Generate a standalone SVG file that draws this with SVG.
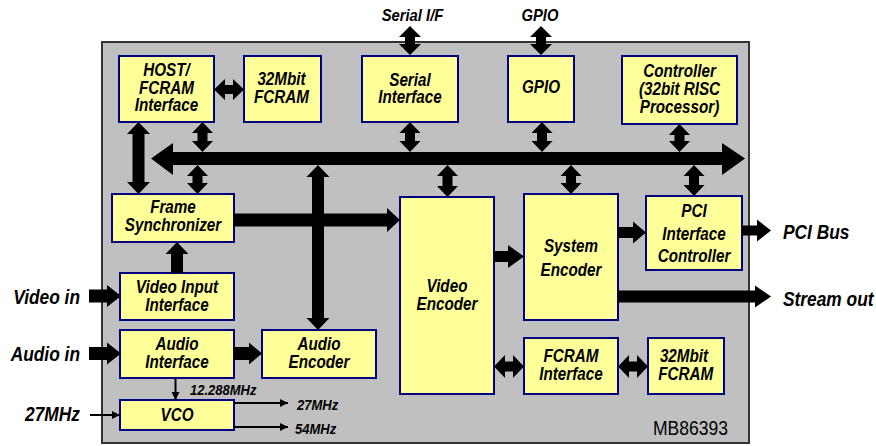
<svg xmlns="http://www.w3.org/2000/svg" width="876" height="446" viewBox="0 0 876 446">
<defs>
<style>
.chip{fill:#C0C0C0;stroke:#333333;stroke-width:2}
.box{fill:#FFFF99;stroke:#000080;stroke-width:2}
.arr{fill:#000000;stroke:none}
.thin{fill:none;stroke:#000000;stroke-width:2}
text{font-family:"Liberation Sans",Arial,sans-serif;font-weight:bold;font-style:italic;fill:#000000}
.lbl{font-size:17.5px;text-anchor:middle}
.top{font-size:17px;text-anchor:middle}
.extl{font-size:19.5px;text-anchor:end}
.extr{font-size:19.5px;text-anchor:start}
.sm{font-size:14px;text-anchor:start}
.part{font-size:20.5px;font-weight:normal;font-style:normal;text-anchor:end}
</style>
<marker id="ah" markerUnits="userSpaceOnUse" markerWidth="9" markerHeight="9" refX="8" refY="4" orient="auto">
<path d="M0,0 L8,4 L0,8 Z" fill="#000000"/>
</marker>
</defs>
<rect class="chip" x="102" y="42" width="647" height="401"/>
<g id="nodes">
<g id="host"><rect class="box" x="119" y="56" width="95" height="66"/><g transform="matrix(0.87 0 0 1 21.645 0)"><text class="lbl" x="166.5" y="76">HOST/</text><text class="lbl" x="166.5" y="94">FCRAM</text><text class="lbl" x="166.5" y="111">Interface</text></g></g>
<g id="fcram1"><rect class="box" x="244" y="56" width="77" height="66"/><g transform="matrix(0.87 0 0 1 36.6 0)"><text class="lbl" x="281.5" y="85.5">32Mbit</text><text class="lbl" x="281.5" y="103.5">FCRAM</text></g></g>
<g id="serial"><rect class="box" x="362" y="56" width="96" height="66"/><g transform="matrix(0.87 0 0 1 53.3 0)"><text class="lbl" x="410" y="86.5">Serial</text><text class="lbl" x="410" y="103.5">Interface</text></g></g>
<g id="gpio"><rect class="box" x="508" y="56" width="66" height="66"/><g transform="matrix(0.87 0 0 1 70.33 0)"><text class="lbl" x="541" y="93.5">GPIO</text></g></g>
<g id="controller"><rect class="box" x="622" y="56" width="115" height="68"/><g transform="matrix(0.87 0 0 1 88.335 0)"><text class="lbl" x="679.5" y="77.5">Controller</text><text class="lbl" x="679.5" y="95.5">(32bit RISC</text><text class="lbl" x="679.5" y="113.5">Processor)</text></g></g>
<g id="framesync"><rect class="box" x="112" y="194" width="122" height="48"/><g transform="matrix(0.87 0 0 1 22.49 0)"><text class="lbl" x="173" y="213.5">Frame</text><text class="lbl" x="173" y="231.5">Synchronizer</text></g></g>
<g id="videoinput"><rect class="box" x="120" y="273" width="114" height="47"/><g transform="matrix(0.87 0 0 1 23.01 0)"><text class="lbl" x="177" y="293.5">Video Input</text><text class="lbl" x="177" y="311">Interface</text></g></g>
<g id="audioif"><rect class="box" x="120" y="330" width="114" height="48"/><g transform="matrix(0.87 0 0 1 23.01 0)"><text class="lbl" x="177" y="350.5">Audio</text><text class="lbl" x="177" y="368.5">Interface</text></g></g>
<g id="audioenc"><rect class="box" x="262" y="330" width="114" height="48"/><g transform="matrix(0.87 0 0 1 41.47 0)"><text class="lbl" x="319" y="350.5">Audio</text><text class="lbl" x="319" y="368.5">Encoder</text></g></g>
<g id="vco"><rect class="box" x="120" y="400" width="114" height="30"/><g transform="matrix(0.87 0 0 1 23.01 0)"><text class="lbl" x="177" y="421">VCO</text></g></g>
<g id="videoenc"><rect class="box" x="400" y="197" width="94" height="197"/><g transform="matrix(0.87 0 0 1 58.11 0)"><text class="lbl" x="447" y="292.5">Video</text><text class="lbl" x="447" y="310.5">Encoder</text></g></g>
<g id="sysenc"><rect class="box" x="524" y="194" width="94" height="126"/><g transform="matrix(0.87 0 0 1 74.23 0)"><text class="lbl" x="571" y="252.5">System</text><text class="lbl" x="571" y="276.5">Encoder</text></g></g>
<g id="pci"><rect class="box" x="646" y="196" width="96" height="74"/><g transform="matrix(0.87 0 0 1 90.22 0)"><text class="lbl" x="694" y="217.5">PCI</text><text class="lbl" x="694" y="240">Interface</text><text class="lbl" x="694" y="262.5">Controller</text></g></g>
<g id="fcramif"><rect class="box" x="524" y="338" width="94" height="56"/><g transform="matrix(0.87 0 0 1 74.23 0)"><text class="lbl" x="571" y="362.5">FCRAM</text><text class="lbl" x="571" y="380">Interface</text></g></g>
<g id="fcram2"><rect class="box" x="648" y="338" width="76" height="56"/><g transform="matrix(0.87 0 0 1 88.92 0)"><text class="lbl" x="684" y="362.5">32Mbit</text><text class="lbl" x="686" y="380">FCRAM</text></g></g>
</g>
<g id="connectors">
<path class="arr" d="M151,158.5 L173,143 L173,152 L722,152 L722,143 L745,158.5 L722,175 L722,165 L173,165 L173,175 Z"/>
<path class="arr" d="M202.5,122 L213,133 L207.5,133 L207.5,141 L213,141 L202.5,152 L192,141 L197.5,141 L197.5,133 L192,133 Z"/>
<path class="arr" d="M197.5,165 L208,176 L202.5,176 L202.5,183 L208,183 L197.5,194 L187,183 L192.5,183 L192.5,176 L187,176 Z"/>
<path class="arr" d="M410,122 L420.5,133 L415,133 L415,141 L420.5,141 L410,152 L399.5,141 L405,141 L405,133 L399.5,133 Z"/>
<path class="arr" d="M542,122 L552.5,133 L547,133 L547,141 L552.5,141 L542,152 L531.5,141 L537,141 L537,133 L531.5,133 Z"/>
<path class="arr" d="M679.5,124 L690,135 L684.5,135 L684.5,141 L690,141 L679.5,152 L669,141 L674.5,141 L674.5,135 L669,135 Z"/>
<path class="arr" d="M447.5,165 L458,176 L452.5,176 L452.5,186 L458,186 L447.5,197 L437,186 L442.5,186 L442.5,176 L437,176 Z"/>
<path class="arr" d="M571,165 L581.5,176 L576,176 L576,183 L581.5,183 L571,194 L560.5,183 L566,183 L566,176 L560.5,176 Z"/>
<path class="arr" d="M694,165 L704.5,176 L699,176 L699,185 L704.5,185 L694,196 L683.5,185 L689,185 L689,176 L683.5,176 Z"/>
<path class="arr" d="M410,26 L421,37 L415,37 L415,44 L421,44 L410,55 L399,44 L405,44 L405,37 L399,37 Z"/>
<path class="arr" d="M541,26 L552,37 L546,37 L546,44 L552,44 L541,55 L530,44 L536,44 L536,37 L530,37 Z"/>
<path class="arr" d="M138.5,122 L150,134 L144.5,134 L144.5,182 L150,182 L138.5,194 L127,182 L132.5,182 L132.5,134 L127,134 Z"/>
<path class="arr" d="M318,165 L329.5,177 L324,177 L324,318 L329.5,318 L318,330 L306.5,318 L312,318 L312,177 L306.5,177 Z"/>
<path class="arr" d="M89,289.5 L107,289.5 L107,285 L121,296 L107,307 L107,302.5 L89,302.5 Z"/>
<path class="arr" d="M89,347 L107,347 L107,342.5 L121,353.5 L107,364.5 L107,360 L89,360 Z"/>
<path class="arr" d="M233,347 L249,347 L249,342.5 L262,353.5 L249,364.5 L249,360 L233,360 Z"/>
<path class="arr" d="M233,213.5 L387,213.5 L387,208 L400,220 L387,232 L387,226.5 L233,226.5 Z"/>
<path class="arr" d="M171,273 L171,254 L165.5,254 L177,242 L188.5,254 L183,254 L183,273 Z"/>
<path class="arr" d="M494,251 L508,251 L508,245 L524,256.5 L508,268 L508,262 L494,262 Z"/>
<path class="arr" d="M618,227 L633,227 L633,221.5 L646,232.5 L633,243.5 L633,238 L618,238 Z"/>
<path class="arr" d="M742,225.5 L757,225.5 L757,219.5 L771,230.5 L757,241.5 L757,235.5 L742,235.5 Z"/>
<path class="arr" d="M618,290.5 L755,290.5 L755,285.5 L771,296.5 L755,307.5 L755,302.5 L618,302.5 Z"/>
<path class="arr" d="M214,89.5 L225,79 L225,85 L233,85 L233,79 L244,89.5 L233,100 L233,94 L225,94 L225,100 Z"/>
<path class="arr" d="M494,366.5 L505,355 L505,361.5 L513,361.5 L513,355 L524,366.5 L513,378 L513,371.5 L505,371.5 L505,378 Z"/>
<path class="arr" d="M618,366.5 L629,355 L629,361.5 L637,361.5 L637,355 L648,366.5 L637,378 L637,371.5 L629,371.5 L629,378 Z"/>
<path class="thin" d="M175.5,378 V400" marker-end="url(#ah)"/>
<path class="thin" d="M90,415 H120" marker-end="url(#ah)"/>
<path class="thin" d="M234,403 H288" marker-end="url(#ah)"/>
<path class="thin" d="M234,427 H288" marker-end="url(#ah)"/>
</g>
<g id="labels">
<text class="top" x="412.5" y="21.5" transform="matrix(0.87 0 0 1 53.625 0)">Serial I/F</text>
<text class="top" x="540" y="21.5" transform="matrix(0.87 0 0 1 70.2 0)">GPIO</text>
<text class="extl" x="80" y="304" transform="matrix(0.89 0 0 1 8.8 0)">Video in</text>
<text class="extl" x="80" y="361.5" transform="matrix(0.89 0 0 1 8.8 0)">Audio in</text>
<text class="extl" x="80" y="421.5" transform="matrix(0.89 0 0 1 8.8 0)">27MHz</text>
<text class="extr" x="783" y="239" transform="matrix(0.89 0 0 1 86.13 0)">PCI Bus</text>
<text class="extr" x="783" y="306.5" transform="matrix(0.89 0 0 1 86.13 0)">Stream out</text>
<text class="sm" x="190" y="395" transform="matrix(0.93 0 0 1 13.3 0)">12.288MHz</text>
<text class="sm" x="297" y="410" transform="matrix(0.93 0 0 1 20.79 0)">27MHz</text>
<text class="sm" x="295" y="434" transform="matrix(0.93 0 0 1 20.65 0)">54MHz</text>
<text class="part" x="728" y="435" transform="matrix(0.855 0 0 1 105.56 0)">MB86393</text>
</g>
</svg>
